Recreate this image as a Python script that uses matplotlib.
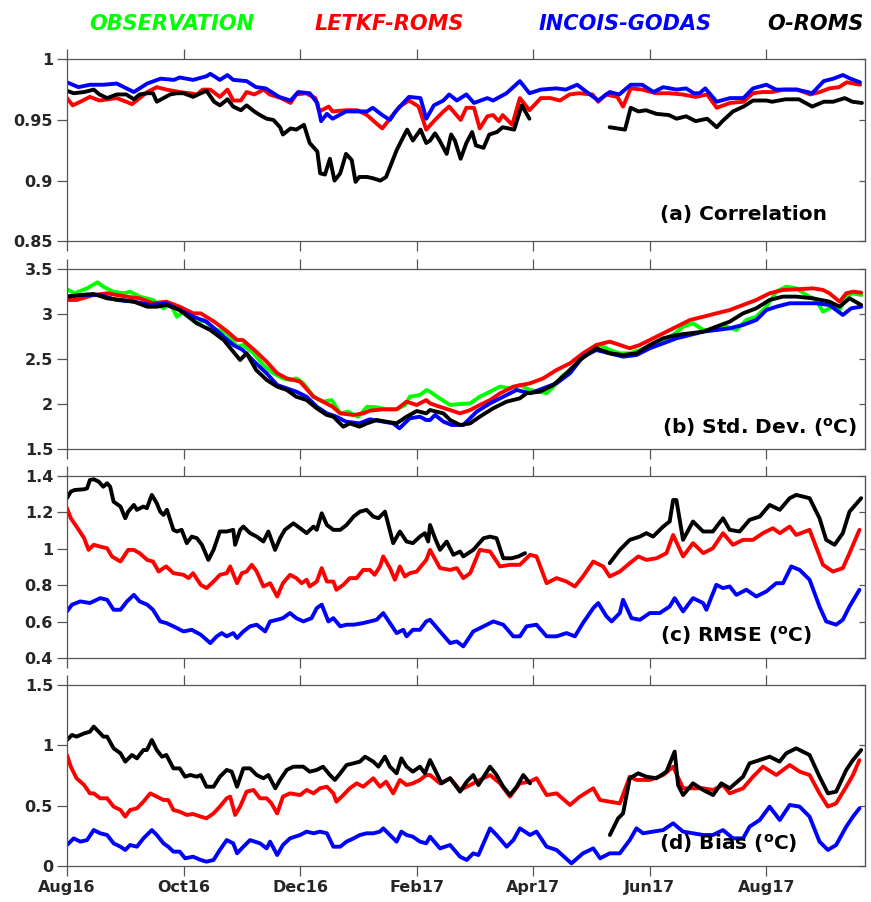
import numpy as np
import matplotlib
matplotlib.use("Agg")
from matplotlib import pyplot as plt
from matplotlib.ticker import FormatStrFormatter

# days since 1 Aug 2016, value
# ---- (a) correlation
corr_godas = [(0, 0.981), (6, 0.977), (12, 0.979), (19, 0.979), (26, 0.980), (35, 0.973), (42, 0.980),
              (49, 0.984), (56, 0.983), (59, 0.985), (66, 0.983), (73, 0.986), (75, 0.988), (80, 0.983),
              (84, 0.987), (87, 0.983), (94, 0.982), (99, 0.977), (104, 0.976), (108, 0.972), (111, 0.969),
              (117, 0.966), (121, 0.973), (127, 0.972), (131, 0.964), (133, 0.949), (136, 0.955), (139, 0.951),
              (146, 0.957), (152, 0.957), (157, 0.957), (160, 0.960), (165, 0.954), (169, 0.950), (172, 0.957),
              (176, 0.964), (179, 0.969), (185, 0.968), (188, 0.951), (192, 0.962), (197, 0.966), (200, 0.971),
              (204, 0.966), (209, 0.971), (213, 0.964), (220, 0.968), (223, 0.966), (230, 0.972), (237, 0.982),
              (242, 0.972), (248, 0.975), (256, 0.976), (261, 0.975), (267, 0.979), (272, 0.973), (278, 0.966),
              (284, 0.973), (289, 0.971), (295, 0.979), (301, 0.979), (307, 0.973), (312, 0.977), (319, 0.975),
              (324, 0.976), (328, 0.972), (331, 0.972), (334, 0.976), (340, 0.965), (347, 0.968), (354, 0.968),
              (359, 0.976), (366, 0.979), (371, 0.975), (382, 0.975), (390, 0.972), (396, 0.982), (401, 0.984),
              (406, 0.987), (410, 0.984), (415, 0.981)]
corr_letkf = [(0, 0.968), (3, 0.962), (7, 0.965), (12, 0.969), (17, 0.966), (26, 0.968), (31, 0.965),
              (34, 0.963), (38, 0.968), (42, 0.973), (47, 0.977), (52, 0.975), (59, 0.973), (64, 0.972),
              (68, 0.971), (71, 0.975), (75, 0.975), (80, 0.969), (84, 0.975), (87, 0.966), (91, 0.966),
              (94, 0.973), (98, 0.971), (103, 0.975), (106, 0.971), (112, 0.968), (117, 0.964), (120, 0.971),
              (125, 0.972), (130, 0.968), (132, 0.957), (137, 0.961), (139, 0.957), (146, 0.958), (152, 0.958),
              (157, 0.954), (162, 0.947), (165, 0.943), (169, 0.951), (174, 0.961), (179, 0.966), (184, 0.961),
              (188, 0.942), (192, 0.949), (197, 0.957), (200, 0.961), (206, 0.950), (209, 0.960), (213, 0.960),
              (216, 0.943), (220, 0.953), (223, 0.954), (226, 0.949), (228, 0.954), (233, 0.946), (237, 0.968),
              (242, 0.958), (248, 0.968), (253, 0.968), (258, 0.966), (263, 0.971), (268, 0.972), (275, 0.971),
              (278, 0.965), (282, 0.971), (288, 0.969), (291, 0.961), (295, 0.976), (301, 0.975), (308, 0.972),
              (315, 0.972), (322, 0.971), (329, 0.969), (335, 0.971), (340, 0.960), (347, 0.964), (354, 0.965),
              (359, 0.972), (364, 0.973), (369, 0.973), (375, 0.975), (382, 0.975), (389, 0.971), (394, 0.973),
              (399, 0.976), (404, 0.977), (408, 0.981), (415, 0.979)]
corr_oroms = [(0, 0.974), (3.5, 0.972), (9, 0.973), (14, 0.975), (17, 0.971), (21, 0.968), (26, 0.971),
              (31, 0.971), (35, 0.967), (38, 0.971), (42, 0.972), (45, 0.972), (47, 0.965), (50.5, 0.968),
              (54, 0.971), (57.5, 0.972), (61, 0.972), (66, 0.969), (70, 0.972), (73, 0.974), (77, 0.965),
              (80, 0.962), (84, 0.967), (87, 0.961), (91, 0.958), (94, 0.962), (98, 0.957), (101, 0.954),
              (104.5, 0.951), (108, 0.950), (111.5, 0.944), (113, 0.938), (117, 0.943), (120, 0.942),
              (124, 0.946), (127, 0.931), (131, 0.924), (132.5, 0.906), (135, 0.905), (137.6, 0.918),
              (140, 0.900), (143, 0.906), (146, 0.922), (149, 0.917), (151, 0.899), (153, 0.903), (157, 0.903),
              (160, 0.902), (164, 0.900), (167, 0.903), (169, 0.911), (172.5, 0.925), (176, 0.936), (178, 0.942),
              (181, 0.933), (185, 0.942), (188, 0.931), (190, 0.933), (192.6, 0.939), (195, 0.933),
              (198.7, 0.922), (201, 0.938), (203, 0.933), (206, 0.918), (209, 0.931), (212, 0.940), (214, 0.929),
              (218, 0.927), (221, 0.938), (225, 0.940), (228, 0.944), (234, 0.942), (238, 0.962), (242, 0.951),
              (263, np.nan),
              (284, 0.944), (288, 0.943), (292, 0.942), (295, 0.960), (299, 0.957), (303, 0.958), (308.5, 0.955),
              (315, 0.954), (319, 0.951), (324, 0.953), (329, 0.949), (335, 0.951), (340, 0.944), (343, 0.949),
              (348.5, 0.957), (354, 0.961), (359, 0.966), (366, 0.966), (369, 0.965), (376, 0.967), (383, 0.967),
              (390, 0.961), (396, 0.965), (401, 0.965), (407, 0.968), (411, 0.965), (416, 0.964)]

# ---- (b) standard deviation
std_obs = [(0, 3.274), (4, 3.230), (10.5, 3.285), (16, 3.352), (19, 3.304), (24, 3.248), (30, 3.230),
           (33, 3.248), (38, 3.193), (45, 3.156), (50.5, 3.063), (54, 3.119), (57.5, 2.970), (61, 3.026),
           (64.5, 2.952), (68, 2.896), (71.4, 2.933), (76.7, 2.841), (83.6, 2.785), (89, 2.637), (92.3, 2.656),
           (97.6, 2.563), (102.8, 2.433), (108, 2.341), (113, 2.285), (116.7, 2.267), (120, 2.285),
           (123.7, 2.230), (129, 2.081), (134, 2.026), (138.5, 2.044), (143, 1.896), (147, 1.915),
           (152.4, 1.859), (157, 1.970), (162, 1.963), (167, 1.941), (172.5, 1.941), (177, 1.989),
           (179.4, 2.081), (184.7, 2.100), (188.2, 2.156), (190, 2.137), (195, 2.063), (200.5, 1.989),
           (205.7, 2.000), (211, 2.007), (216, 2.081), (221.4, 2.137), (226.6, 2.193), (231.8, 2.174),
           (237, 2.211), (242.3, 2.156), (247.5, 2.137), (251, 2.119), (254.5, 2.193), (259.7, 2.322),
           (265, 2.396), (268.4, 2.489), (273.6, 2.581), (279, 2.656), (284, 2.600), (289.3, 2.563),
           (294.5, 2.563), (299.8, 2.600), (305, 2.637), (312, 2.711), (317.2, 2.767), (322.4, 2.859),
           (327.6, 2.896), (333, 2.822), (339.8, 2.822), (345, 2.859), (350.3, 2.822), (355.5, 2.933),
           (360.7, 2.970), (366, 3.081), (371.2, 3.248), (376.4, 3.304), (381.6, 3.285), (386.9, 3.211),
           (392, 3.156), (395.6, 3.026), (400.8, 3.081), (404.3, 3.044), (407.8, 3.193), (411.3, 3.230),
           (415.6, 3.211)]
std_letkf = [(0, 3.156), (5, 3.156), (14, 3.211), (21, 3.230), (31, 3.193), (38, 3.174), (45, 3.119),
             (52, 3.137), (59, 3.081), (66, 3.007), (70, 3.007), (77, 2.915), (84, 2.804), (89, 2.711),
             (92, 2.711), (98, 2.600), (104.5, 2.470), (110, 2.341), (115, 2.285), (122, 2.248), (129, 2.081),
             (134, 2.026), (139, 1.970), (143, 1.896), (150, 1.878), (155, 1.896), (158.5, 1.926),
             (165.5, 1.941), (172.5, 1.941), (177.7, 2.026), (183, 1.989), (188, 2.044), (190, 2.007),
             (195, 1.970), (200.5, 1.933), (205.7, 1.896), (211, 1.933), (216, 1.989), (221.4, 2.044),
             (226.6, 2.119), (233.6, 2.193), (242.3, 2.230), (249.2, 2.285), (256.2, 2.378), (263.2, 2.452),
             (270, 2.563), (277, 2.656), (284, 2.693), (289.3, 2.656), (294.5, 2.619), (299.8, 2.656),
             (305, 2.711), (312, 2.785), (319, 2.859), (326, 2.933), (333, 2.970), (339.8, 3.007),
             (346.8, 3.044), (353.8, 3.100), (360.7, 3.156), (367.7, 3.230), (374.7, 3.267), (381.6, 3.274),
             (390.3, 3.285), (395.6, 3.267), (399, 3.230), (404.3, 3.137), (407.8, 3.230), (411.3, 3.248),
             (415.6, 3.237)]
std_godas = [(0, 3.193), (9, 3.211), (17, 3.211), (26, 3.156), (35, 3.137), (43.6, 3.100), (52, 3.119),
             (59, 3.044), (66, 2.970), (73, 2.915), (80, 2.785), (87, 2.656), (92, 2.600), (98, 2.470),
             (104.5, 2.341), (110, 2.211), (115, 2.174), (120, 2.137), (125.4, 2.081), (130.7, 1.970),
             (136, 1.896), (141, 1.859), (146, 1.804), (153, 1.785), (158.5, 1.830), (165.5, 1.804),
             (170.7, 1.785), (174, 1.730), (179.4, 1.841), (184.7, 1.859), (188, 1.822), (190, 1.822),
             (192.6, 1.878), (197, 1.804), (201.3, 1.767), (207.4, 1.767), (214.4, 1.915), (221.4, 2.007),
             (228.3, 2.081), (235.3, 2.156), (242.3, 2.119), (249.2, 2.174), (256.2, 2.230), (263.2, 2.341),
             (270, 2.526), (277, 2.600), (284, 2.563), (291, 2.526), (298, 2.544), (305, 2.619), (312, 2.674),
             (319, 2.730), (326, 2.767), (333, 2.804), (339.8, 2.822), (346.8, 2.841), (353.8, 2.878),
             (360.7, 2.933), (366, 3.044), (371.2, 3.081), (378.2, 3.119), (385, 3.119), (392, 3.119),
             (399, 3.100), (406, 2.989), (410.4, 3.063), (415.6, 3.081)]
std_oroms = [(0, 3.193), (7, 3.211), (14, 3.222), (21, 3.174), (28, 3.156), (35, 3.137), (42, 3.081),
             (47, 3.081), (52, 3.100), (59, 3.044), (68, 2.896), (75, 2.822), (82, 2.711), (90.6, 2.489),
             (94, 2.563), (99, 2.378), (104.5, 2.267), (110, 2.193), (115, 2.156), (120, 2.081), (125.4, 2.044),
             (130.7, 1.952), (136, 1.878), (139.4, 1.859), (144.6, 1.748), (148, 1.785), (153, 1.748),
             (157, 1.785), (162, 1.822), (167, 1.804), (172.5, 1.785), (177.7, 1.859), (183, 1.922),
             (188, 1.896), (190, 1.933), (197, 1.896), (200.5, 1.822), (205.7, 1.767), (211, 1.785),
             (216, 1.859), (223, 1.952), (230, 2.026), (237, 2.063), (240.5, 2.119), (247.5, 2.137),
             (254.5, 2.211), (261.4, 2.341), (268.4, 2.489), (277, 2.619), (284, 2.563), (291, 2.544),
             (298, 2.563), (305, 2.656), (312, 2.730), (319, 2.767), (326, 2.785), (333, 2.804),
             (339.8, 2.859), (346.8, 2.915), (353.8, 3.007), (360.7, 3.063), (367.7, 3.156), (374.7, 3.193),
             (381.6, 3.193), (390.3, 3.174), (399, 3.137), (404.3, 3.081), (409.5, 3.174), (415.6, 3.100)]

# ---- (c) RMSE
rmse_letkf = [(0, 1.223), (2, 1.168), (5, 1.122), (9, 1.058), (11.3, 0.994), (14, 1.022), (17.4, 1.012),
              (21, 1.003), (23.5, 0.958), (28, 0.930), (32, 0.994), (35, 0.994), (38, 0.976), (42, 0.939),
              (45, 0.930), (48, 0.875), (50.5, 0.894), (52, 0.903), (55.7, 0.866), (61, 0.857), (63.6, 0.839),
              (66, 0.866), (70, 0.802), (73, 0.784), (76.7, 0.820), (80, 0.857), (83.6, 0.866), (85.4, 0.903),
              (89, 0.811), (91.5, 0.866), (94, 0.875), (96.7, 0.912), (99.3, 0.875), (102.8, 0.793),
              (106.3, 0.811), (110, 0.738), (113, 0.811), (116.7, 0.857), (120, 0.839), (122.8, 0.811),
              (125.4, 0.830), (127, 0.793), (130.7, 0.820), (133.3, 0.894), (136, 0.820), (139.4, 0.820),
              (141, 0.775), (144.6, 0.802), (148, 0.839), (151.6, 0.839), (155, 0.884), (158.5, 0.884),
              (161, 0.857), (163.8, 0.903), (165.5, 0.958), (169, 0.894), (171.6, 0.830), (174.2, 0.903),
              (176.8, 0.848), (179.4, 0.866), (183, 0.875), (188, 0.939), (190, 0.994), (195.2, 0.894),
              (200.5, 0.884), (204, 0.894), (207.4, 0.839), (211, 0.866), (216, 0.994), (221.4, 0.985),
              (226.6, 0.903), (231.8, 0.912), (237, 0.912), (242.3, 0.967), (245.7, 0.958), (251, 0.811),
              (256.2, 0.839), (261.4, 0.820), (265.8, 0.793), (270, 0.848), (275.4, 0.930), (280.6, 0.903),
              (284, 0.848), (289.3, 0.875), (294.5, 0.921), (299, 0.958), (303.2, 0.939), (308.5, 0.948),
              (313.7, 0.976), (317.2, 1.076), (322.4, 0.958), (327.6, 1.031), (333, 0.976), (338, 1.003),
              (343.3, 1.086), (348.5, 1.022), (353.8, 1.049), (359, 1.049), (364.2, 1.086), (369.4, 1.113),
              (373, 1.086), (378.2, 1.122), (381.6, 1.076), (388.6, 1.104), (395.6, 0.912), (400.8, 0.875),
              (406, 0.894), (409.5, 0.976), (414.7, 1.104)]
rmse_godas = [(0, 0.656), (2.6, 0.693), (7, 0.711), (12, 0.702), (17.4, 0.729), (21, 0.720), (24.4, 0.665),
              (28, 0.665), (31.4, 0.711), (35, 0.747), (38, 0.711), (42, 0.693), (45, 0.665), (48.8, 0.601),
              (52, 0.592), (55.7, 0.574), (61, 0.546), (65.3, 0.555), (70, 0.528), (75, 0.482), (78.4, 0.519),
              (81, 0.537), (83.6, 0.519), (87, 0.537), (89, 0.510), (92.3, 0.546), (95.8, 0.574), (99.3, 0.583),
              (103.7, 0.546), (106.3, 0.601), (110, 0.610), (113, 0.619), (116.7, 0.647), (120, 0.619),
              (123.7, 0.601), (128, 0.619), (130.7, 0.674), (133.3, 0.693), (136.8, 0.601), (139.4, 0.619),
              (143, 0.574), (146.3, 0.583), (150, 0.583), (155, 0.592), (158.5, 0.601), (162, 0.610),
              (165.5, 0.647), (169, 0.592), (172.5, 0.537), (176, 0.555), (177.7, 0.519), (181, 0.555),
              (184.7, 0.555), (188, 0.601), (190, 0.610), (195.2, 0.546), (200.5, 0.482), (204, 0.491),
              (207.4, 0.464), (212.6, 0.546), (218, 0.574), (223.1, 0.601), (228.3, 0.583), (233.6, 0.519),
              (237, 0.519), (240.5, 0.574), (245.7, 0.583), (251, 0.519), (256.2, 0.519), (261.4, 0.537),
              (265.8, 0.519), (270, 0.592), (275.4, 0.674), (278, 0.702), (282.3, 0.629), (285, 0.601),
              (289.3, 0.647), (291, 0.720), (295.4, 0.619), (299.8, 0.610), (305, 0.647), (310.2, 0.647),
              (315.4, 0.683), (318, 0.729), (322.4, 0.656), (327.6, 0.729), (332.9, 0.702), (334.6, 0.665),
              (339.8, 0.802), (343.3, 0.784), (346.8, 0.793), (350.3, 0.747), (355.5, 0.775), (360.7, 0.738),
              (366, 0.766), (371.2, 0.811), (374.7, 0.811), (379, 0.903), (383.4, 0.884), (388.6, 0.830),
              (393.8, 0.683), (397.3, 0.601), (402.5, 0.583), (406, 0.610), (409.5, 0.683), (414.7, 0.775)]
rmse_oroms = [(0, 1.278), (2, 1.314), (4, 1.323), (9, 1.327), (10.5, 1.332), (12, 1.378), (14, 1.382),
              (16.6, 1.369), (19, 1.341), (21, 1.360), (22.6, 1.341), (24.4, 1.259), (28, 1.232), (30.5, 1.168),
              (32, 1.204), (35, 1.241), (36.6, 1.214), (40, 1.232), (41.8, 1.223), (44.4, 1.296), (47, 1.250),
              (48.8, 1.204), (50.5, 1.186), (52.3, 1.214), (55.7, 1.104), (57.5, 1.095), (60, 1.104),
              (62.7, 1.031), (65.3, 1.067), (68, 1.058), (70.6, 1.022), (74, 0.939), (76.7, 0.994), (80, 1.095),
              (83.6, 1.095), (87, 1.104), (88, 1.022), (90.6, 1.104), (92.3, 1.122), (95.8, 1.086),
              (99.3, 1.067), (102.8, 1.040), (105.4, 1.095), (108.9, 0.994), (111.5, 1.058), (114, 1.104),
              (118.5, 1.140), (122, 1.113), (125.4, 1.086), (129, 1.122), (130.7, 1.104), (133.3, 1.195),
              (136, 1.131), (139.4, 1.104), (143, 1.104), (146.3, 1.131), (150, 1.177), (153.3, 1.204),
              (156.8, 1.214), (160.3, 1.177), (163, 1.168), (166.4, 1.204), (170.7, 1.031), (174.2, 1.095),
              (177.7, 1.040), (181, 1.031), (184.7, 1.067), (187.3, 1.086), (189, 1.040), (190, 1.131),
              (192.6, 1.058), (195.2, 0.994), (198.7, 1.040), (202.2, 0.967), (205.7, 0.985), (207.4, 0.958),
              (212.6, 0.994), (218, 1.058), (221.4, 1.067), (224.8, 1.058), (228.3, 0.948), (232.7, 0.948),
              (236.2, 0.958), (239.7, 0.976),
              (262, np.nan),
              (284, 0.921), (289.3, 0.994), (294.5, 1.049), (299.8, 1.067), (303.2, 1.086), (306.7, 1.067),
              (312, 1.122), (315.4, 1.150), (317.2, 1.268), (318.9, 1.268), (322.4, 1.049), (327.6, 1.150),
              (332.9, 1.095), (338, 1.095), (343.3, 1.168), (346.8, 1.104), (352, 1.095), (357.2, 1.159),
              (362.5, 1.177), (367.7, 1.241), (373, 1.214), (378.2, 1.278), (381.6, 1.296), (388.6, 1.278),
              (393.8, 1.168), (397.3, 1.049), (401.7, 1.022), (406, 1.086), (409.5, 1.204), (415.6, 1.278)]

# ---- (d) bias
bias_letkf = [(0, 0.920), (2, 0.823), (5, 0.727), (9, 0.671), (12, 0.602), (14, 0.602), (17.4, 0.561),
              (21, 0.561), (24.4, 0.492), (28, 0.464), (30.5, 0.409), (33, 0.464), (36.6, 0.478), (40, 0.533),
              (43.6, 0.602), (47, 0.575), (50.5, 0.547), (53, 0.547), (55.7, 0.464), (59, 0.450), (62.7, 0.423),
              (66, 0.431), (70, 0.409), (73, 0.395), (76.7, 0.436), (80, 0.492), (83.6, 0.561), (85.4, 0.575),
              (88, 0.423), (90.6, 0.492), (94, 0.616), (97.6, 0.630), (101, 0.561), (104.5, 0.561), (107, 0.519),
              (110, 0.436), (113, 0.575), (116.7, 0.602), (122, 0.588), (125.4, 0.630), (129, 0.602),
              (132.4, 0.644), (136, 0.657), (139.4, 0.602), (141, 0.533), (144.6, 0.588), (148, 0.644),
              (151.6, 0.685), (155, 0.657), (160.3, 0.727), (163.8, 0.657), (167, 0.699), (170.7, 0.602),
              (174.2, 0.713), (177.7, 0.671), (181, 0.685), (184.7, 0.713), (188, 0.754), (190, 0.754),
              (195.2, 0.685), (200.5, 0.727), (205.7, 0.630), (211, 0.671), (216, 0.713), (221.4, 0.754),
              (226.6, 0.685), (231.8, 0.575), (237, 0.685), (242.3, 0.699), (245.7, 0.727), (251, 0.588),
              (256.2, 0.602), (263.2, 0.506), (268.4, 0.575), (275.4, 0.644), (278.9, 0.547), (284, 0.533),
              (289.3, 0.519), (294.5, 0.740), (298, 0.713), (305, 0.713), (312, 0.754), (317.2, 0.823),
              (322.4, 0.644), (327.6, 0.644), (332.9, 0.644), (338, 0.630), (343.3, 0.671), (346.8, 0.602),
              (353.8, 0.644), (359, 0.740), (364.2, 0.823), (371.2, 0.754), (378.2, 0.837), (383.4, 0.782),
              (388.6, 0.754), (393.8, 0.602), (398.2, 0.492), (402.5, 0.519), (407.8, 0.657), (411.3, 0.754),
              (414.7, 0.878)]
bias_godas = [(0, 0.174), (3.5, 0.229), (7, 0.202), (10.5, 0.215), (14, 0.298), (17.4, 0.271), (21, 0.257),
              (24.4, 0.188), (28, 0.160), (30.5, 0.133), (33, 0.174), (36.6, 0.160), (40, 0.229), (44.4, 0.298),
              (47, 0.257), (50.5, 0.188), (53, 0.160), (55.7, 0.119), (59, 0.119), (61.8, 0.064), (66, 0.077),
              (70, 0.050), (73, 0.036), (76.7, 0.050), (80, 0.133), (83.6, 0.215), (87, 0.188), (89, 0.105),
              (92.3, 0.160), (95.8, 0.215), (101, 0.188), (104.5, 0.146), (106.3, 0.202), (110, 0.091),
              (113, 0.174), (116.7, 0.229), (122, 0.257), (125.4, 0.285), (129, 0.271), (132.4, 0.285),
              (136, 0.271), (139.4, 0.160), (143, 0.160), (146.3, 0.202), (150, 0.229), (153.3, 0.257),
              (156.8, 0.271), (160.3, 0.271), (163.8, 0.285), (165.5, 0.312), (169, 0.257), (172.5, 0.202),
              (175, 0.285), (177.7, 0.257), (181, 0.243), (184.7, 0.202), (188, 0.188), (190, 0.243),
              (195.2, 0.146), (200.5, 0.174), (205.7, 0.077), (209.2, 0.050), (212.6, 0.105), (215.3, 0.091),
              (221.4, 0.312), (224.8, 0.257), (230.1, 0.160), (233.6, 0.215), (237, 0.312), (242.3, 0.257),
              (245.7, 0.285), (251, 0.160), (256.2, 0.133), (264, 0.022), (270, 0.105), (275.4, 0.146),
              (279, 0.064), (284, 0.105), (289.3, 0.105), (294.5, 0.215), (298, 0.312), (301.5, 0.271),
              (306.7, 0.285), (312, 0.298), (317.2, 0.354), (322.4, 0.285), (327.6, 0.271), (333, 0.257),
              (338, 0.257), (343.3, 0.298), (348.5, 0.229), (353.8, 0.229), (357.2, 0.326), (362.5, 0.381),
              (367.7, 0.492), (373, 0.381), (378.2, 0.506), (383.4, 0.492), (388.6, 0.409), (393.8, 0.202),
              (398.2, 0.133), (402.5, 0.174), (407.8, 0.326), (411.3, 0.409), (414.7, 0.478)]
bias_oroms = [(0, 1.044), (2.6, 1.086), (5, 1.072), (9, 1.099), (12, 1.113), (14, 1.155), (16.6, 1.113),
              (19, 1.072), (21, 1.072), (24.4, 0.975), (28, 0.934), (30.5, 0.865), (34, 0.920), (36.6, 0.892),
              (40, 0.961), (41.8, 0.961), (44.4, 1.044), (47, 0.961), (49.7, 0.906), (52, 0.920), (55.7, 0.809),
              (59, 0.809), (61.8, 0.740), (64.5, 0.754), (68, 0.740), (70, 0.754), (73, 0.657), (76.7, 0.657),
              (80, 0.740), (83.6, 0.796), (86.2, 0.782), (89, 0.657), (92.3, 0.809), (95.8, 0.809),
              (99.3, 0.754), (102.8, 0.727), (105.4, 0.754), (109, 0.644), (111.5, 0.713), (115, 0.796),
              (118.5, 0.823), (123.7, 0.823), (127, 0.782), (130.7, 0.796), (134, 0.823), (137.6, 0.754),
              (140.2, 0.713), (143, 0.768), (146.3, 0.837), (150, 0.851), (153.3, 0.865), (156, 0.906),
              (160.3, 0.865), (163, 0.823), (166.4, 0.906), (169, 0.823), (172.5, 0.768), (175, 0.892),
              (177.7, 0.823), (181, 0.782), (184.7, 0.823), (187.3, 0.768), (190, 0.878), (192.6, 0.796),
              (196, 0.685), (200.5, 0.727), (205.7, 0.616), (209.2, 0.699), (212.6, 0.754), (215.3, 0.671),
              (221.4, 0.823), (224.8, 0.754), (228.3, 0.657), (231.8, 0.588), (235.3, 0.657), (238.8, 0.754),
              (242.3, 0.685),
              (263, np.nan),
              (284.1, 0.257), (288.4, 0.395), (291, 0.436), (294.5, 0.727), (298.9, 0.768), (303.2, 0.740),
              (308.5, 0.727), (313.7, 0.782), (318, 0.948), (319.8, 0.671), (322.4, 0.588), (327.6, 0.685),
              (332.9, 0.630), (338.1, 0.588), (342.4, 0.685), (346.8, 0.644), (353.8, 0.740), (357.2, 0.851),
              (362.5, 0.878), (367.7, 0.906), (372.9, 0.865), (376.4, 0.934), (381.6, 0.975), (388.6, 0.920),
              (393.8, 0.740), (398.2, 0.602), (402.5, 0.616), (407.8, 0.796), (411.3, 0.878), (415.6, 0.961)]

month_ticks = [0, 61, 122, 183, 244, 305, 366]
month_labels = ["Aug16", "Oct16", "Dec16", "Feb17", "Apr17", "Jun17", "Aug17"]

model_names = ["OBSERVATION", "LETKF-ROMS", "INCOIS-GODAS", "O-ROMS"]
model_colors = ["#00ff00", "#ff0000", "#0000ff", "#000000"]

panels = [
    dict(series=[None, corr_letkf, corr_godas, corr_oroms], ylim=(0.85, 1.0),
         yticks=[0.85, 0.9, 0.95, 1.0], title="(a) Correlation", tx=0.952, ty=0.117),
    dict(series=[std_obs, std_letkf, std_godas, std_oroms], ylim=(1.5, 3.5),
         yticks=[1.5, 2, 2.5, 3, 3.5], title=r"(b) Std. Dev. ($\mathbf{^{o}}$C)", tx=0.990, ty=0.083),
    dict(series=[None, rmse_letkf, rmse_godas, rmse_oroms], ylim=(0.4, 1.4),
         yticks=[0.4, 0.6, 0.8, 1.0, 1.2, 1.4], title=r"(c) RMSE ($\mathbf{^{o}}$C)", tx=0.934, ty=0.088),
    dict(series=[None, bias_letkf, bias_godas, bias_oroms], ylim=(0, 1.5),
         yticks=[0, 0.5, 1.0, 1.5], title=r"(d) Bias ($\mathbf{^{o}}$C)", tx=0.916, ty=0.088),
]

# axes boxes in figure fraction [left, bottom, width, height]
boxes = [[0.0769, 0.7325, 0.9162, 0.2018],
         [0.0769, 0.5022, 0.9162, 0.1996],
         [0.0769, 0.2705, 0.9162, 0.2018],
         [0.0769, 0.0399, 0.9162, 0.2007]]

plt.rcParams["font.family"] = ["DejaVu Sans"]
plt.rcParams["mathtext.default"] = "bf"

fig = plt.figure(figsize=(8.71, 9.02), dpi=100)
spine_col = "#555555"
label_col = "#262626"

# draw order: godas, letkf, o-roms, observation on top
order = [2, 1, 3, 0]

for i, (p, box) in enumerate(zip(panels, boxes)):
    ax = fig.add_axes(box)
    for k in order:
        s = p["series"][k]
        if s is None:
            continue
        d, v = zip(*s)
        ax.plot(d, v, color=model_colors[k], lw=2.8, solid_capstyle="round", zorder=2 + k * 0.1)
    ax.set_xlim(0, 417.6)
    ax.set_ylim(*p["ylim"])
    ax.set_yticks(p["yticks"])
    ax.yaxis.set_major_formatter(FormatStrFormatter("%g"))
    ax.set_xticks(month_ticks)
    if i == len(panels) - 1:
        ax.set_xticklabels(month_labels)
    else:
        ax.set_xticklabels([])
    ax.tick_params(direction="out", length=7, width=0.9, top=True, right=False,
                   color=spine_col, labelcolor=label_col, labelsize=11.5, pad=3)
    for lab in ax.get_xticklabels() + ax.get_yticklabels():
        lab.set_fontweight("bold")
    for sp in ax.spines.values():
        sp.set_color(spine_col)
        sp.set_linewidth(0.9)
    # small inward ticks on the right side
    sec = ax.secondary_yaxis("right")
    sec.set_yticks(p["yticks"])
    sec.tick_params(direction="in", length=4, width=0.9, color=spine_col, labelright=False)
    sec.spines["right"].set_color(spine_col)
    ax.text(p["tx"], p["ty"], p["title"], transform=ax.transAxes, ha="right", va="baseline",
            fontsize=14.5, fontweight="bold", color="black", zorder=5)

# coloured model names act as the legend
legend_x = [0.197, 0.447, 0.7176, 0.936]
for name, col, x in zip(model_names, model_colors, legend_x):
    fig.text(x, 0.9667, name, color=col, ha="center", va="baseline", fontsize=15,
             fontweight="bold", fontstyle="italic")

fig.savefig("out.png", dpi=100)
